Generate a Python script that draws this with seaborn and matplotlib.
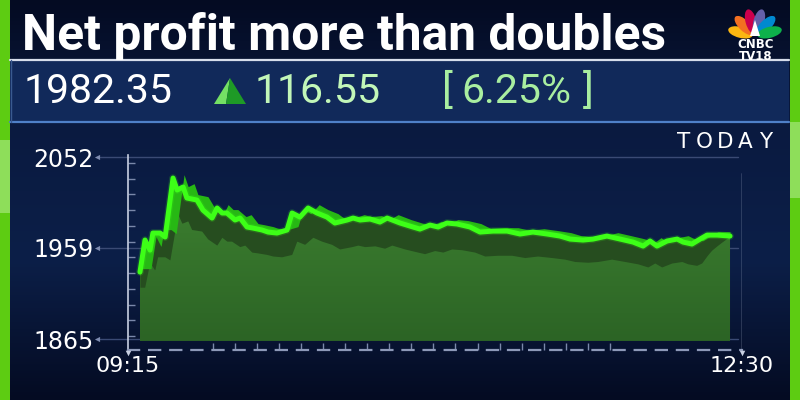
import numpy as np
import pandas as pd
import matplotlib
matplotlib.use("Agg")
import matplotlib.pyplot as plt
import matplotlib.transforms as mtransforms
import seaborn as sns
from matplotlib.patches import Rectangle, Polygon, Ellipse
from matplotlib.colors import LinearSegmentedColormap
from matplotlib.ticker import FixedLocator, NullFormatter

# ---------------- data ----------------
minutes = [3.8, 5.4, 7.0, 7.9, 10.2, 11.8, 14.3, 15.6, 17.5, 18.7,
           21.9, 23.8, 26.7, 28.3, 29.9, 31.4, 34.0, 35.6, 37.8, 39.7,
           42.6, 44.5, 47.3, 50.5, 52.1, 54.6, 57.2, 60.0, 63.2, 65.7,
           69.6, 71.5, 73.7, 76.9, 80.0, 82.3, 86.4, 90.5, 92.7, 95.9,
           98.5, 101.3, 104.5, 108.6, 111.8, 115.9, 120.4, 124.5, 128.6, 133.1,
           137.2, 140.4, 144.5, 147.7, 152.1, 156.3, 160.4, 163.6, 165.8, 168.0,
           171.2, 174.4, 176.3, 179.1, 181.7, 183.9, 187.1, 191.2]
price = [1933.8, 1966.7, 1956.4, 1973.9, 1973.9, 1969.8, 2030.4, 2018.1, 2021.2, 2009.9,
         2007.8, 1997.5, 1989.3, 1999.6, 1994.5, 1994.5, 1987.3, 1989.3, 1980.1, 1979.0,
         1977.0, 1974.9, 1973.9, 1977.0, 1994.5, 1990.3, 1999.6, 1994.5, 1990.3, 1984.2,
         1987.3, 1989.3, 1987.3, 1988.3, 1985.2, 1989.3, 1984.2, 1980.1, 1978.0, 1982.1,
         1980.1, 1984.2, 1983.2, 1980.1, 1974.9, 1975.9, 1975.9, 1972.9, 1974.9, 1972.9,
         1970.8, 1967.7, 1966.7, 1967.7, 1970.8, 1967.7, 1964.6, 1960.5, 1965.7, 1960.5,
         1965.7, 1967.7, 1964.6, 1962.6, 1967.7, 1971.8, 1971.8, 1970.8]
y_ticks = [1865, 1959, 2052]
y_tick_labels = ["1865", "1959", "2052"]
x_ticks = [0, 195]
x_tick_labels = ["09:15", "12:30"]
title = "Net profit more than doubles"
last_price = "1982.35"
change = "116.55"
change_pct = ["[", "6.25%", "]"]
period_label = "TODAY"
logo_text = "CNBC\nTV18"

# ---------------- style ----------------
sns.set_theme(style="dark")
plt.rcParams['font.family'] = ['DejaVu Sans']

BG = '#0a1a3e'
fig = plt.figure(figsize=(8, 4), dpi=100)
fig.patch.set_facecolor(BG)

# background gradient (pixel coordinates, y downward)
bg = fig.add_axes([0, 0, 1, 1], zorder=0)
bg_cmap = LinearSegmentedColormap.from_list(
    'bg', [(0, '#040b22'), (0.3, '#0a1a40'), (0.65, '#0c1f48'), (1, '#040b22')])
bg.imshow(np.linspace(0, 1, 400).reshape(-1, 1), aspect='auto', cmap=bg_cmap,
          extent=[0, 800, 400, 0])
bg.set_xlim(0, 800)
bg.set_ylim(400, 0)
bg.axis('off')

# ---------------- chart ----------------
ax = fig.add_axes([128 / 800, 50 / 400, 614 / 800, 195 / 400], zorder=2)
ax.patch.set_alpha(0)

t = np.array(minutes)
y = np.array(price)
base = 1863.0
df = pd.DataFrame({'minute': t, 'price': y})

# main area with vertical gradient
area = ax.fill_between(t, base, y, facecolor='none', lw=0)
g_cmap = LinearSegmentedColormap.from_list('g', ['#2c6425', '#3e8231'])
img = ax.imshow(np.linspace(0, 1, 100).reshape(-1, 1), origin='lower', aspect='auto',
                cmap=g_cmap, extent=[t.min(), t.max(), base, y.max()], zorder=1)
img.set_clip_path(area.get_paths()[0], transform=ax.transData)

# 3-D styling: dark band below the line, ribbon behind the line
tt = np.linspace(t.min(), t.max(), 1500)
y_tt = np.interp(tt, t, y)
lower = base + (y - base) * 0.78
lower_tt = np.interp(tt, t + 1.5, lower)
ramp = np.clip((tt - (t.max() - 9)) / 9, 0, 1)
lower_tt = lower_tt * (1 - ramp) + y_tt * ramp
ax.fill_between(tt, lower_tt, y_tt, color='#264d1f', lw=0, zorder=2)

back_tt = np.interp(tt - 3.5, t, y) + 3.5
ax.fill_between(tt, np.minimum(back_tt, y_tt), np.maximum(back_tt, y_tt),
                color='#27b814', lw=0, zorder=3)

# neon line
ax.plot(t, y, color='#3dff17', lw=5.5, alpha=0.18, solid_joinstyle='round', zorder=4)
sns.lineplot(data=df, x='minute', y='price', ax=ax, color='#3dff17', lw=3.6,
             zorder=5, sort=False, estimator=None)
for l in ax.get_lines():
    l.set_solid_joinstyle('round')
    l.set_solid_capstyle('round')

# axes limits / spines
ax.set_xlim(0, 195)
ax.set_ylim(1853.7, 2054.1)
ax.set_xlabel('')
ax.set_ylabel('')
ax.grid(False)
for s in ['top', 'right']:
    ax.spines[s].set_visible(False)
ax.spines['left'].set_color('#c8d0e2')
ax.spines['left'].set_linewidth(1.2)
ax.spines['bottom'].set_color('#8d99b8')
ax.spines['bottom'].set_linewidth(1.6)
ax.spines['bottom'].set_linestyle((0, (5, 4.5)))

# right vertical line
ax.axvline(195, ymin=0, ymax=(350 - 173) / 195, color='#b8c2d8', lw=1.0, zorder=6)

# horizontal guide lines extending to the labels
for v in y_ticks:
    ax.axhline(v, xmin=(100 - 128) / 614, xmax=(738 - 128) / 614, clip_on=False,
               color='#3a4a74', lw=1.0, zorder=0.5)
ax.scatter([(97 - 128) / 614] * 3, y_ticks, marker='<', s=14, color='#7d8bb0',
           transform=mtransforms.blended_transform_factory(ax.transAxes, ax.transData),
           clip_on=False, zorder=6, linewidths=0)
ax.scatter(x_ticks, [-3 / 195] * 2, marker='v', s=16, color='#c8d0e2',
           transform=mtransforms.blended_transform_factory(ax.transData, ax.transAxes),
           clip_on=False, zorder=6, linewidths=0)

# ticks
ax.set_yticks(y_ticks)
ax.set_yticklabels(y_tick_labels)
ax.set_xticks(x_ticks)
ax.set_xticklabels(x_tick_labels)
ax.tick_params(axis='y', which='major', length=0, pad=25, labelcolor='white', labelsize=17)
ax.tick_params(axis='x', which='major', length=0, pad=4, labelcolor='white', labelsize=16)
ax.yaxis.set_minor_locator(FixedLocator(2046.1 - 16.2 * np.arange(12)))
ax.yaxis.set_minor_formatter(NullFormatter())
ax.xaxis.set_minor_locator(FixedLocator(27 + 7.0 * np.arange(19)))
ax.xaxis.set_minor_formatter(NullFormatter())
ax.tick_params(which='minor', direction='in', length=5, width=1, color='#7a88aa',
               left=True, bottom=True)

# ---------------- decorations (pixel coordinates) ----------------
deco = fig.add_axes([0, 0, 1, 1], zorder=5)
deco.set_xlim(0, 800)
deco.set_ylim(400, 0)
deco.axis('off')

# side green bars
deco.add_patch(Rectangle((0, 0), 10, 400, color='#5dcc12', lw=0))
deco.add_patch(Rectangle((0, 140), 10, 73, color='#8ede5a', lw=0))
deco.add_patch(Rectangle((790, 0), 10, 400, color='#5dcc12', lw=0))
deco.add_patch(Rectangle((790, 122), 10, 76, color='#8ede5a', lw=0))

# price band
deco.add_patch(Rectangle((10, 60), 779, 62, color='#11295a', lw=0))
deco.plot([10, 789], [60, 60], color='#d6ddeb', lw=1.6)
deco.plot([10, 789], [122, 122], color='#4f80c8', lw=1.6)
deco.plot([10.5, 10.5], [60, 122], color='#3a5a90', lw=1)

# title (fit width)
ttl = deco.text(22, 50, title, fontsize=32, fontweight='bold', family=['Roboto', 'DejaVu Sans'],
                color='white', ha='left', va='baseline')
fig.canvas.draw()
w = ttl.get_window_extent().width
ttl.set_fontsize(min(36, 32 * 645 / w))

# price texts
deco.text(24, 103, last_price, fontsize=29.5, family=['Roboto', 'DejaVu Sans'], color='white',
          ha='left', va='baseline')
deco.add_patch(Polygon([(214, 104), (230, 78), (226, 104)], closed=True, color='#74e064', lw=0))
deco.add_patch(Polygon([(226, 104), (230, 78), (246, 104)], closed=True, color='#1e9a26', lw=0))
deco.text(255, 103, change, fontsize=29.5, family=['Roboto', 'DejaVu Sans'], color='#c2f6b8',
          ha='left', va='baseline')
deco.text(442, 103, change_pct[0], fontsize=29.5, family=['Roboto', 'DejaVu Sans'], color='#a9eea0',
          ha='left', va='baseline')
deco.text(516, 103, change_pct[1], fontsize=29.5, family=['Roboto', 'DejaVu Sans'], color='#a9eea0',
          ha='center', va='baseline')
deco.text(594, 103, change_pct[2], fontsize=29.5, family=['Roboto', 'DejaVu Sans'], color='#a9eea0',
          ha='right', va='baseline')

# TODAY label (letter spaced)
for ch, cx in zip(period_label, [683.5, 704, 725, 745.5, 766]):
    deco.text(cx, 148, ch, fontsize=15.5, color='white', ha='center', va='baseline')

# logo
bx, by = 755, 36
feather_cols = ['#fcb711', '#f37021', '#cc004c', '#6460aa', '#0089d0', '#0db14b']
for a, c in zip(np.linspace(166, 14, 6), feather_cols):
    r = 15
    cx = bx + r * np.cos(np.radians(a))
    cy = by - r * np.sin(np.radians(a))
    deco.add_patch(Ellipse((cx, cy), 25, 11, angle=-a, color=c, lw=0))
deco.add_patch(Polygon([(750, 36), (755, 20), (760, 36)], closed=True, color='white', lw=0))
deco.text(756, 38.5, logo_text, fontsize=8.5, fontweight='bold', color='white',
          ha='center', va='top', linespacing=0.9, multialignment='center')

fig.savefig('out.png', dpi=100, facecolor=BG)
